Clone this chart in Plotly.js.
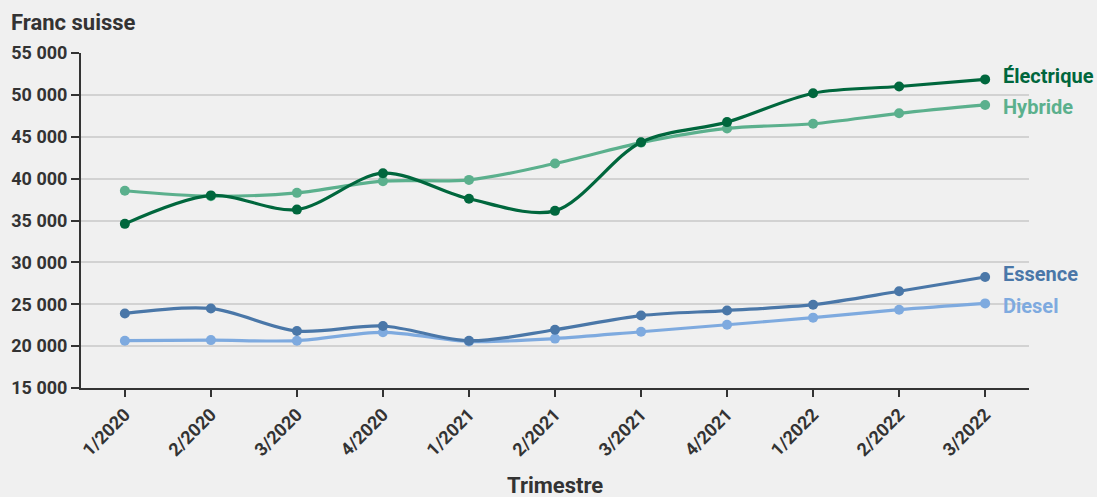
<!DOCTYPE html>
<html>
<head>
<meta charset="utf-8">
<script src="https://cdn.plot.ly/plotly-3.0.1.min.js"></script>
<style>
html,body{margin:0;padding:0;background:#f0f0f0;}
#chart{width:1097px;height:497px;}
</style>
</head>
<body>
<div id="chart"></div>
<script>
const quarters = ["1/2020","2/2020","3/2020","4/2020","1/2021","2/2021","3/2021","4/2021","1/2022","2/2022","3/2022"];
const electrique = [34600, 38000, 36300, 40650, 37600, 36150, 44350, 46750, 50200, 51000, 51850];
const hybride = [38550, 37900, 38300, 39700, 39850, 41800, 44300, 46000, 46550, 47800, 48800];
const essence = [23900, 24500, 21800, 22400, 20650, 21950, 23650, 24250, 24950, 26550, 28250];
const diesel = [20650, 20720, 20650, 21650, 20560, 20900, 21720, 22550, 23400, 24350, 25100];
const seriesNames = ["Électrique","Hybride","Essence","Diesel"];
const seriesData = [electrique, hybride, essence, diesel];
const colors = ["#00673d","#5bb08d","#4a77a8","#7eaadf"];
const FONT = "Roboto, sans-serif";

const traces = seriesData.map((vals, i) => ({
  x: quarters, y: vals, type: "scatter", mode: "lines+markers",
  name: seriesNames[i],
  line: {color: colors[i], width: 3.2, shape: "spline", smoothing: 0.9},
  marker: {color: colors[i], size: 10},
  cliponaxis: false, hoverinfo: "x+y"
})).reverse();

const annotations = seriesData.map((vals, i) => ({
  x: quarters[quarters.length-1], y: vals[vals.length-1], xref: "x", yref: "y",
  text: seriesNames[i], showarrow: false, xanchor: "left", yanchor: "middle",
  xshift: 16, yshift: [3,-2,3,-3][i],
  font: {family: FONT, size: 20, color: colors[i], weight: 700}
}));
annotations.push({
  text: "Franc suisse", xref: "paper", yref: "paper", x: -0.0759, y: 1.0925,
  xanchor: "left", yanchor: "middle", showarrow: false,
  font: {family: FONT, size: 22, color: "#333333", weight: 700}
});
annotations.push({
  text: "Trimestre", xref: "paper", yref: "paper", x: 0.5, y: -0.2925,
  xanchor: "center", yanchor: "middle", showarrow: false,
  font: {family: FONT, size: 22, color: "#333333", weight: 700}
});

const layout = {
  width: 1097, height: 497,
  paper_bgcolor: "#f0f0f0", plot_bgcolor: "#f0f0f0",
  margin: {l: 81, r: 68, t: 53, b: 109},
  showlegend: false,
  separators: ", ",
  font: {family: FONT, color: "#333333"},
  xaxis: {
    type: "category", range: [-0.51, 10.51],
    showgrid: false, zeroline: false,
    showline: true, linecolor: "#333333", linewidth: 2,
    ticks: "outside", ticklen: 7, tickwidth: 2, tickcolor: "#333333",
    tickangle: -45,
    tickfont: {family: FONT, size: 18, color: "#333333", weight: 700}
  },
  yaxis: {
    range: [15000, 55000], dtick: 5000, tick0: 15000,
    showgrid: true, gridcolor: "#d2d2d2", gridwidth: 2,
    zeroline: false,
    showline: true, linecolor: "#333333", linewidth: 2,
    ticks: "outside", ticklen: 8, tickwidth: 2, tickcolor: "#333333",
    tickformat: ",d",
    tickfont: {family: FONT, size: 18, color: "#333333", weight: 700}
  },
  annotations: annotations
};

Plotly.newPlot("chart", traces, layout, {displayModeBar: false, staticPlot: true});
</script>
</body>
</html>
